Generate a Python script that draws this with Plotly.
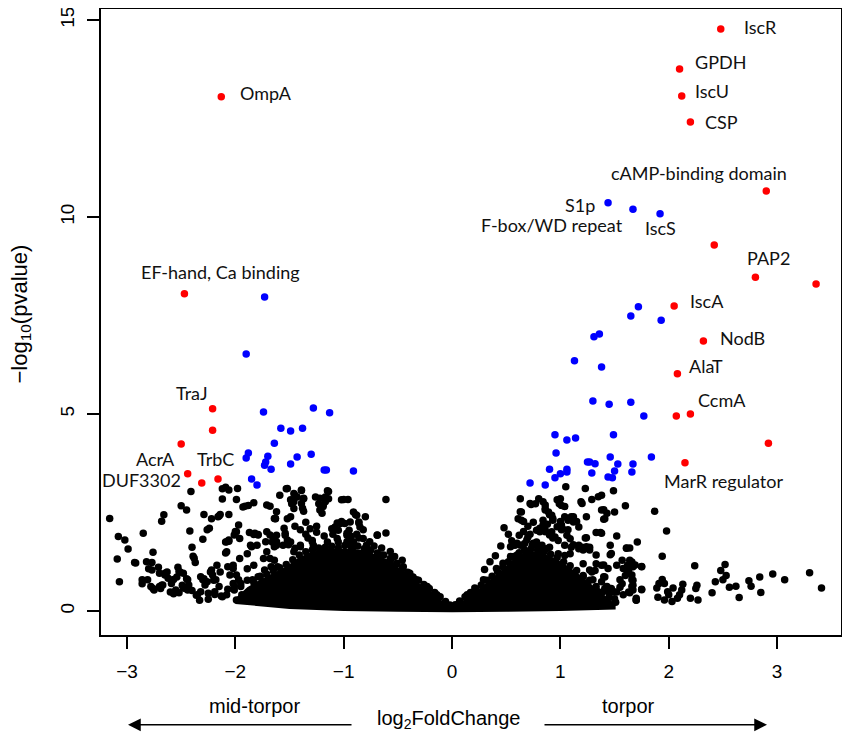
import plotly.graph_objects as go

# ---- data (log2FoldChange, -log10 pvalue) ----

# genes not significant (black)
black_x = [
    # far right tail
    1.87, 1.98, 1.71, 1.94, 1.64, 1.66, 1.67, 1.75, 2.24, 2.52, 2.48, 2.53, 2.50, 2.43, 2.40, 2.56, 2.62, 2.65,
    2.74, 2.76, 2.84, 2.85, 2.96, 3.07, 3.30, 3.41, 2.26, 2.25, 2.13, 2.12, 2.10, 2.08, 2.27, 2.20, 2.04, 2.00,
    2.03, 1.96, 1.90, 1.89, 1.94, 1.96, 1.91, 1.99, 1.75, 1.70, 1.66, 1.66, 1.64,
    # right, middle heights
    1.60, 1.61, 1.52, 1.50, 1.49, 1.35, 1.23, 1.05, 1.40, 1.41, 1.24, 1.29, 1.19, 1.33, 1.37, 1.24, 1.46, 1.46,
    1.26, 1.21, 1.17, 1.52, 1.57, 1.62, 1.63, 1.67, 1.67, 1.75, 1.75, 1.70, 1.57, 1.63, 1.47, 1.52, 1.50, 1.38,
    1.33, 1.32, 1.29, 1.41, 1.38, 1.41, 1.35, 1.43, 1.33,
    0.63, 0.48, 0.80, 0.84, 0.77, 0.73, 1.00, 0.99, 1.01, 0.86, 0.89, 0.64, 0.61, 0.64, 0.92, 0.93, 1.10, 1.07,
    1.12, 0.84, 0.84, 1.01, 1.02, 1.17, 0.78, 0.81, 0.86, 0.92, 0.95, 0.98, 1.06, 1.09, 0.58, 0.63, 0.67, 0.70,
    0.74, 0.78, 0.83, 0.81, 0.87, 0.90, 1.04, 1.10, 1.17, 1.20, 1.27, 0.98, 1.04, 1.09,
    0.72, 0.86, 0.86, 0.63, 0.66, 0.97, 1.04, 1.20, 1.38, 1.38, 1.43, 0.90, 0.93, 1.00, 1.04, 1.12, 1.15, 1.40,
    0.81, 0.86, 0.90, 0.93, 0.97, 1.01, 1.07, 1.38, 1.23, 1.24, 1.47, 1.61, 0.54, 0.60, 0.69, 0.75, 0.80, 1.12,
    1.20, 1.27, 1.33, 1.64, 1.69, 1.58, 1.66, 1.55, 1.40, 1.44, 1.40, 1.43, 1.49, 1.58, 1.21, 1.27, 1.21, 1.30,
    1.33, 1.67, 1.70,
    0.54, 0.60, 0.47, 0.41, 0.29, 0.21, 0.14, 0.70, 0.75, 0.81, 0.90, 0.97, 1.06, 1.12,
    0.55, 0.62, 0.66, 0.72, 0.70, 0.75, 0.88, 0.52, 0.45, 0.40, 0.35, 0.30,
    1.12, 1.18, 1.25, 1.10, 1.20, 1.05, 1.15, 1.25, 1.35, 1.45, 1.55, 1.60,
    # right slope of the dense mass
    0.03, 0.07, 0.12, 0.17, 0.22, 0.27, 0.32, 0.37, 0.42, 0.47, 0.52, 0.57, 0.62, 0.67, 0.73, 0.79, 0.85,
    0.91, 0.97, 1.03, 1.09, 1.15, 1.21, 1.27, 1.33, 1.39, 1.45, 1.51,
    # left tail
    -2.41, -2.09, -2.06, -1.98, -2.12, -1.99, -2.50, -2.45, -1.91, -1.83, -1.71, -1.68, -3.16, -2.66, -2.68,
    -2.29, -2.16, -2.14, -2.06, -1.64, -2.85, -2.42, -2.26, -2.24, -3.08, -3.02, -1.99, -2.01, -1.87, -1.82,
    -1.79, -2.30, -2.08, -2.06, -1.72, -2.99, -2.40, -2.76, -2.08, -1.85, -1.64, -1.64, -3.09, -2.38, -2.37,
    -2.93, -2.82, -2.77, -2.77, -2.71, -2.70, -2.53, -2.52, -2.48, -2.65, -2.62, -2.59, -2.57, -3.07, -2.86,
    -2.81, -2.86, -2.78, -2.75, -2.70, -2.67, -2.55, -2.52, -2.48, -2.44, -2.43, -2.44, -2.32, -2.30, -2.28,
    -2.26, -2.35, -2.32, -2.25, -2.19, -2.22, -2.21, -2.18, -2.15, -2.12, -2.08,
    -2.92, -2.80, -2.76, -2.63, -2.65, -2.68, -2.69, -2.60, -2.54, -2.51, -2.45, -2.49, -2.46, -2.57, -2.40,
    -2.36, -2.33, -2.39, -2.22, -2.15, -2.12, -1.93, -1.88, -1.97, -2.00, -2.09, -2.06, -2.09, -1.83, -1.79,
    -1.89, -1.63,
    # left, dense lower part
    -2.07, -2.02, -2.05, -1.99, -1.97, -2.02, -1.95, -2.01, -1.94, -1.88, -1.84, -1.79, -1.84, -1.79, -1.76,
    -1.73, -1.70, -1.67, -1.73, -1.67, -1.64, -1.61, -1.60, -1.58, -1.64, -1.73, -1.79, -1.88, -1.99,
    # left-middle
    -1.53, -1.46, -1.43, -1.39, -1.37, -1.48, -1.46, -1.49, -1.52, -1.26, -1.23, -1.22, -1.19, -1.17, -1.14,
    -1.15, -1.38, -1.37, -1.31, -1.00, -0.96, -0.61, -0.91, -0.88, -0.80, -1.03, -0.99, -0.94, -0.86, -0.85,
    -1.08, -1.11, -0.69, -0.61, -1.06, -0.97, -0.91, -0.82, -0.79, -1.71, -1.62, -1.66, -1.62, -1.56, -1.54,
    -1.49, -1.46, -1.40, -1.29, -1.28, -1.22, -1.96, -1.86, -1.80, -1.71, -1.74, -1.68, -2.02, -1.96, -1.89,
    -1.83, -2.17, -2.14, -2.23, -2.29, -2.20,
    -1.59, -1.52, -1.45, -1.46, -1.49, -1.39, -1.37, -1.39, -1.22, -1.14, -1.17, -1.19, -1.20, -1.02, -0.89,
    -0.86, -0.82, -1.06, -1.02, -0.97, -0.93, -0.86, -0.97, -0.91, -0.76, -0.69, -1.40, -1.62, -1.63, -1.68,
    -1.65, -1.62, -1.54, -1.52, -1.51, -1.45, -1.40, -1.33, -1.29, -1.28, -1.17, -1.14, -0.76, -0.66, -0.57,
    -0.53, -0.46, -0.45, -0.39, -0.33, -0.23, -0.14, -0.51, -0.57,
    -1.35, -1.25, -1.18, -1.10, -1.05, -0.95, -0.88, -1.15, -1.05, -0.72, -0.65, -1.25, -1.35, -1.45, -1.55,
    # left slope of the dense mass
    -2.25, -2.19, -2.13, -2.07, -2.01, -1.95, -1.89, -1.83, -1.77, -1.71, -1.65, -1.59, -1.53, -1.47, -1.41,
    -1.35, -1.29, -1.23, -1.17, -1.11, -1.05, -0.99, -0.93, -0.87, -0.81, -0.75, -0.69, -0.63, -0.57, -0.51,
    -0.46, -0.41, -0.36, -0.31, -0.26, -0.21, -0.16, -0.11, -0.06, -0.02,
]
black_y = [
    2.53, 2.03, 1.75, 1.39, 1.60, 1.24, 1.12, 1.12, 1.15, 1.18, 1.03, 0.90, 0.79, 0.74, 0.46, 0.60, 0.63, 0.34,
    0.77, 0.63, 0.86, 0.47, 0.94, 0.79, 0.97, 0.58, 0.65, 0.57, 0.68, 0.53, 0.41, 0.32, 0.28, 0.32, 0.58, 0.41,
    0.24, 0.28, 0.35, 0.58, 0.80, 0.70, 0.70, 0.49, 0.55, 0.28, 0.79, 0.62, 0.46,
    2.67, 1.60, 1.90, 2.51, 3.05, 2.90, 3.11, 3.15, 2.57, 2.34, 2.39, 2.83, 2.77, 1.99, 1.99, 1.86, 1.67, 1.43,
    1.58, 1.55, 1.67, 1.16, 1.29, 1.16, 1.03, 0.78, 0.65, 1.13, 0.54, 0.27, 0.69, 0.48, 0.57, 0.48, 0.31, 1.16,
    1.20, 1.03, 0.99, 0.86, 0.74, 0.57, 0.48, 0.23, 0.23,
    2.85, 2.11, 2.85, 2.77, 2.72, 2.70, 2.85, 2.72, 2.68, 2.60, 2.51, 2.51, 2.34, 2.30, 2.43, 2.30, 2.39, 2.30,
    2.26, 2.30, 2.18, 2.18, 2.09, 2.13, 2.05, 2.01, 2.05, 2.01, 1.88, 1.79, 1.92, 1.83, 1.67, 1.67, 1.71, 1.88,
    1.67, 1.75, 1.67, 1.54, 1.58, 1.62, 1.67, 1.62, 1.58, 1.62, 1.62, 1.45, 1.41, 1.45,
    2.73, 2.69, 2.56, 2.52, 2.27, 2.82, 2.65, 2.73, 2.94, 2.56, 2.48, 2.44, 2.35, 2.27, 2.39, 2.39, 2.27, 2.33,
    2.10, 2.01, 1.93, 1.85, 2.14, 2.06, 2.06, 1.97, 1.85, 1.63, 1.46, 1.59, 1.63, 1.72, 1.80, 1.72, 1.63, 1.68,
    1.59, 1.55, 1.42, 1.29, 1.17, 1.08, 0.91, 0.79, 1.17, 1.08, 0.87, 0.62, 0.49, 0.41, 1.20, 1.04, 0.87, 0.79,
    0.53, 0.53, 0.32,
    1.38, 1.42, 1.21, 1.08, 0.79, 0.58, 0.41, 1.51, 1.29, 1.21, 1.29, 1.12, 1.04, 0.96,
    1.78, 1.92, 2.02, 1.95, 2.15, 2.25, 2.20, 1.95, 1.65, 1.40, 1.25, 1.05,
    0.70, 0.55, 0.40, 0.45, 0.20, 0.75, 0.85, 0.65, 0.35, 0.45, 0.60, 0.90,
    0.16, 0.25, 0.36, 0.47, 0.56, 0.66, 0.78, 0.88, 1.00, 1.12, 1.25, 1.38, 1.48, 1.55, 1.58, 1.55, 1.50,
    1.44, 1.36, 1.25, 1.15, 1.03, 0.90, 0.78, 0.62, 0.48, 0.35, 0.22,
    3.03, 3.14, 3.07, 3.11, 2.84, 2.83, 2.67, 2.56, 2.66, 2.75, 2.69, 2.66, 2.35, 2.44, 2.28,
    2.45, 2.39, 2.45, 2.45, 2.35, 1.97, 2.03, 2.06, 2.10, 1.89, 1.80, 2.01, 1.93, 1.99, 1.97,
    1.93, 1.82, 1.76, 1.80, 1.76, 1.57, 1.62, 1.49, 1.50, 1.63, 1.80, 1.63, 1.32, 1.34, 1.23,
    1.23, 1.25, 1.23, 1.04, 1.11, 0.96, 1.11, 1.00, 0.96, 0.96, 0.83, 0.70, 0.80, 0.74, 0.79,
    0.79, 0.69, 0.62, 0.53, 0.62, 0.66, 0.53, 0.46, 0.58, 0.79, 0.66, 0.53, 0.87, 0.79, 0.66,
    0.74, 0.41, 0.49, 0.45, 0.49, 1.04, 0.91, 0.79, 0.62, 0.36, 0.41,
    1.22, 1.07, 0.57, 0.99, 0.91, 0.65, 0.57, 0.48, 0.86, 0.99, 0.82, 0.65, 0.57, 0.44, 0.52,
    0.40, 0.27, 1.39, 2.34, 2.41, 3.10, 2.64, 2.68, 2.18, 2.02, 1.75, 1.77, 1.47, 1.94, 1.94,
    1.45, 2.34,
    1.12, 1.08, 0.91, 0.91, 0.79, 0.70, 0.62, 0.53, 0.41, 0.45, 0.53, 0.45, 0.79, 0.87, 0.70,
    0.53, 0.41, 0.62, 1.04, 1.12, 1.29, 1.12, 0.83, 0.53, 0.28, 0.28, 0.28, 0.28, 0.28,
    3.10, 2.98, 2.89, 3.06, 2.85, 2.72, 2.60, 2.39, 2.34, 2.89, 2.72, 2.56, 2.68, 2.89, 2.85,
    3.05, 2.61, 2.53, 2.09, 2.83, 2.83, 2.83, 2.51, 2.43, 2.39, 2.22, 2.22, 2.26, 2.26, 2.13,
    2.13, 2.09, 1.92, 1.98, 1.84, 1.92, 1.75, 1.84, 1.67, 2.01, 1.92, 1.75, 1.67, 1.67, 1.92,
    1.75, 1.50, 1.67, 1.79, 1.67, 1.50, 1.84, 1.67, 1.67, 1.50, 1.33, 1.33, 1.16, 1.33, 1.07,
    1.16, 1.16, 0.99, 0.99, 0.82, 0.78,
    2.94, 3.11, 2.94, 2.77, 2.82, 3.07, 2.86, 2.73, 2.86, 3.03, 2.77, 2.65, 2.48, 2.82, 2.44,
    2.23, 2.06, 2.23, 2.27, 1.97, 1.89, 1.85, 1.76, 1.63, 1.76, 1.93, 2.06, 2.52, 2.35, 1.93,
    1.85, 1.76, 1.97, 1.80, 1.68, 1.59, 1.63, 1.85, 1.76, 1.59, 1.55, 1.42, 1.51, 1.42, 1.51,
    1.38, 1.29, 1.12, 0.96, 0.79, 0.62, 0.41, 1.21, 1.29,
    1.95, 2.00, 1.90, 1.95, 2.05, 2.05, 1.95, 1.75, 1.75, 1.65, 1.60, 2.15, 2.25, 2.15, 2.10,
    0.30, 0.42, 0.38, 0.55, 0.62, 0.70, 0.78, 0.72, 0.88, 0.93, 1.02, 1.10, 1.18, 1.30, 1.42,
    1.50, 1.55, 1.60, 1.62, 1.64, 1.60, 1.66, 1.62, 1.65, 1.58, 1.55, 1.47, 1.42, 1.33, 1.20,
    1.08, 0.98, 0.86, 0.78, 0.67, 0.57, 0.47, 0.36, 0.24, 0.15,
]

# outline of the solid mass of overlapping points around zero
core_x = [-2.00, -1.89, -1.77, -1.65, -1.53, -1.41, -1.29, -1.17, -1.05, -0.93, -0.81, -0.69, -0.57, -0.46,
          -0.36, -0.26, -0.16, -0.06, 0.00, 0.07, 0.17, 0.27, 0.37, 0.47, 0.57, 0.67, 0.73, 0.85, 0.97,
          1.09, 1.21, 1.33, 1.45, 1.51,
          1.51, 1.00, 0.50, 0.00, -0.50, -1.00, -1.50, -2.00]
core_y = [0.32, 0.60, 0.80, 0.97, 1.13, 1.37, 1.50, 1.57, 1.57, 1.58, 1.54, 1.42, 1.28, 1.03,
          0.81, 0.62, 0.42, 0.19, 0.10, 0.20, 0.42, 0.61, 0.83, 1.07, 1.33, 1.50, 1.53, 1.45, 1.31,
          1.10, 0.85, 0.57, 0.30, 0.17,
          0.04, 0.00, -0.02, -0.03, -0.02, 0.00, 0.05, 0.18]

# significant, small fold change (blue)
blue_x = [-1.73, -1.90, -1.74, -1.28, -1.13, -1.58, -1.49, -1.38, -1.64, -1.88, -1.90, -1.70, -1.72, -1.73,
          -1.67, -1.43, -1.30, -1.49, -1.18, -1.16, -0.91, -1.85, -1.80,
          1.44, 1.67, 1.92, 1.72, 1.65, 1.93, 1.31, 1.36, 1.13, 1.38, 1.30, 1.45, 1.65, 1.77, 0.95, 1.06,
          1.14, 1.49, 0.96, 1.84, 1.46, 1.25, 1.27, 1.32, 1.53, 1.67, 0.90, 1.06, 1.06, 1.00, 0.95, 1.29,
          1.50, 1.66, 1.44, 1.48, 0.72, 0.86]
blue_y = [7.97, 6.52, 5.05, 5.15, 5.03, 4.64, 4.57, 4.64, 4.26, 4.01, 3.88, 3.93, 3.78, 3.70,
          3.60, 3.91, 3.98, 3.73, 3.58, 3.58, 3.55, 3.35, 3.20,
          10.36, 10.20, 10.08, 7.72, 7.49, 7.38, 6.96, 7.03, 6.35, 6.19, 5.33, 5.25, 5.30, 4.95, 4.47, 4.34,
          4.39, 4.47, 4.01, 3.91, 3.91, 3.78, 3.78, 3.74, 3.73, 3.73, 3.60, 3.60, 3.53, 3.48, 3.38, 3.50,
          3.55, 3.53, 3.40, 3.38, 3.25, 3.20]

# significant, large fold change (red)
red_x = [2.48, 2.10, 2.12, 2.20, 2.90, 2.42, 2.80, 3.36, 2.05, 2.32, 2.08, 2.07, 2.20, 2.92, 2.15,
         -2.13, -2.47, -2.21, -2.21, -2.50, -2.44, -2.31, -2.16]
red_y = [14.77, 13.76, 13.07, 12.41, 10.66, 9.29, 8.47, 8.30, 7.74, 6.85, 6.02, 4.95, 5.00, 4.26, 3.76,
         13.05, 8.05, 5.13, 4.59, 4.24, 3.48, 3.25, 3.35]

gene_names = ["IscR", "GPDH", "IscU", "CSP", "cAMP-binding domain", "S1p", "F-box/WD repeat", "IscS",
              "PAP2", "IscA", "NodB", "AlaT", "CcmA", "MarR regulator", "OmpA", "EF-hand, Ca binding",
              "TraJ", "AcrA", "DUF3302", "TrbC"]

x_ticks = [-3, -2, -1, 0, 1, 2, 3]
y_ticks = [0, 5, 10, 15]

# where each gene name sits (x, y, anchor)
label_pos = [(2.69, 14.82, "left"), (2.23, 13.93, "left"), (2.23, 13.20, "left"), (2.33, 12.41, "left"),
             (2.28, 11.12, "center"), (1.33, 10.30, "right"), (1.59, 9.80, "right"), (1.92, 9.72, "center"),
             (2.92, 8.96, "center"), (2.19, 7.87, "left"), (2.46, 6.93, "left"), (2.18, 6.22, "left"),
             (2.26, 5.36, "left"), (2.51, 3.30, "center"), (-1.97, 13.15, "left"), (-2.14, 8.60, "center"),
             (-2.40, 5.53, "center"), (-2.74, 3.85, "center"), (-2.49, 3.33, "right"), (-2.18, 3.86, "center")]

fig = go.Figure()
fig.add_trace(go.Scatter(x=core_x, y=core_y, mode="lines", fill="toself", fillcolor="black",
                         line=dict(width=0, color="black"), hoverinfo="skip"))
fig.add_trace(go.Scatter(x=black_x, y=black_y, mode="markers",
                         marker=dict(color="black", size=7.5, line=dict(width=0))))
fig.add_trace(go.Scatter(x=blue_x, y=blue_y, mode="markers",
                         marker=dict(color="#0000ff", size=7.5, line=dict(width=0))))
fig.add_trace(go.Scatter(x=red_x, y=red_y, mode="markers",
                         marker=dict(color="#ff0000", size=7.5, line=dict(width=0))))

annotations = []
for name, (lx, ly, anc) in zip(gene_names, label_pos):
    annotations.append(dict(x=lx, y=ly, xref="x", yref="y", text=name, showarrow=False,
                            xanchor=anc, yanchor="middle", borderpad=0,
                            font=dict(family="Lato", size=18, color="#111111")))

axis_font = dict(family="Liberation Sans, Arial", size=19, color="black")
title_font = dict(family="Liberation Sans, Arial", size=20, color="black")
# axis titles and the direction arrows under the x axis
annotations += [
    dict(x=-0.1081, y=0.512, xref="paper", yref="paper", text="\u2212log<sub>10</sub>(pvalue)",
         textangle=-90, showarrow=False, xanchor="center", yanchor="middle", borderpad=0,
         font=dict(family="Liberation Sans, Arial", size=22, color="black")),
    dict(x=0.4696, y=-0.1356, xref="paper", yref="paper", text="log<sub>2</sub>FoldChange",
         showarrow=False, xanchor="center", yanchor="middle", font=title_font),
    dict(x=0.2081, y=-0.1132, xref="paper", yref="paper", text="mid-torpor", showarrow=False,
         xanchor="center", yanchor="middle", font=title_font),
    dict(x=0.7135, y=-0.1132, xref="paper", yref="paper", text="torpor", showarrow=False,
         xanchor="center", yanchor="middle", font=title_font),
    dict(x=0.0365, y=-0.1435, xref="paper", yref="paper", text="", showarrow=True, ax=225, ay=0,
         arrowhead=2, arrowsize=1.7, arrowwidth=1.5, arrowcolor="black"),
    dict(x=0.9, y=-0.1435, xref="paper", yref="paper", text="", showarrow=True, ax=-224, ay=0,
         arrowhead=2, arrowsize=1.7, arrowwidth=1.5, arrowcolor="black"),
]

# the page body adds 8px around the figure, so the figure is 8px smaller than the window
fig.update_layout(
    width=842, height=736,
    margin=dict(l=93, r=9, t=1, b=109, autoexpand=False),
    paper_bgcolor="white", plot_bgcolor="white",
    showlegend=False,
    annotations=annotations,
)
fig.update_xaxes(range=[-3.24, 3.59], tickvals=x_ticks, ticks="outside", ticklen=12, tickwidth=1.5,
                 tickcolor="black", showline=True, linewidth=1.5, linecolor="black", mirror=True,
                 showgrid=False, zeroline=False, tickfont=axis_font, ticklabelstandoff=6, automargin=False,
                 ticklabeloverflow="allow")
fig.update_yaxes(range=[-0.61, 15.28], tickvals=y_ticks, ticks="outside", ticklen=12, tickwidth=1.5,
                 tickcolor="black", showline=True, linewidth=1.5, linecolor="black", mirror=True,
                 showgrid=False, zeroline=False, tickfont=axis_font, tickangle=-90, ticklabelstandoff=6,
                 automargin=False, ticklabeloverflow="allow")

fig.write_html("out.html")
